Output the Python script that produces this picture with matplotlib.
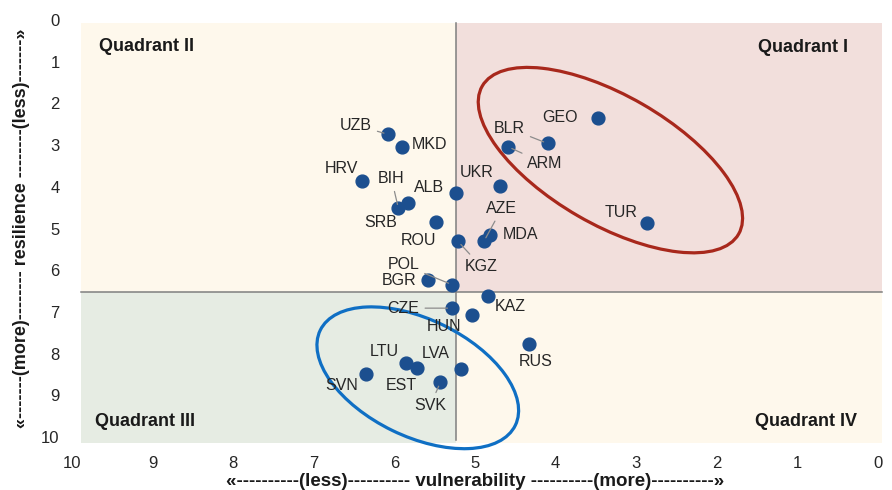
import matplotlib
matplotlib.use("Agg")
import matplotlib.pyplot as plt
import matplotlib.transforms as mtransforms
from matplotlib.patches import Ellipse, Rectangle

plt.rcParams['font.family'] = ['Liberation Sans', 'DejaVu Sans']

# data: vulnerability (x, reversed) and resilience (y, reversed)
countries = ["UZB", "MKD", "HRV", "BIH", "SRB", "ALB", "ROU", "KGZ", "UKR", "AZE",
             "MDA", "GEO", "BLR", "ARM", "TUR", "BGR", "POL", "KAZ", "CZE", "HUN",
             "RUS", "LTU", "EST", "LVA", "SVK", "SVN"]
vulnerability = [6.08, 5.91, 6.40, 5.95, 5.83, 5.23, 5.48, 5.21, 4.69, 4.89,
                 4.81, 3.47, 4.10, 4.59, 2.87, 5.58, 5.28, 4.84, 5.29, 5.04,
                 4.33, 5.85, 5.72, 5.17, 5.43, 6.35]
resilience = [2.74, 3.04, 3.85, 4.52, 4.38, 4.16, 4.84, 5.31, 3.97, 5.31,
              5.16, 2.34, 2.96, 3.04, 4.88, 6.24, 6.35, 6.61, 6.91, 7.08,
              7.76, 8.23, 8.35, 8.37, 8.69, 8.49]
x_split = 5.24
y_split = 6.52
ticks = list(range(0, 11))

# label offsets in pixels (right, down)
offsets = {"UZB": (-32, -9), "MKD": (28, -2), "HRV": (-21, -12), "BIH": (-7, -30),
           "SRB": (-27, 20), "ALB": (-27, -6), "ROU": (-18, 19), "KGZ": (23, 25),
           "UKR": (-23, -13), "AZE": (18, -33), "MDA": (30, -1), "GEO": (-38, 0),
           "BLR": (-38, -15), "ARM": (37, 17), "TUR": (-26, -11), "BGR": (-29, 0),
           "POL": (-49, -20), "KAZ": (22, 11), "CZE": (-48, 0), "HUN": (-28, 11),
           "RUS": (7, 18), "LTU": (-22, -12), "EST": (-16, 17), "LVA": (-26, -16),
           "SVK": (-10, 23), "SVN": (-25, 11)}
leaders = {"UZB", "BIH", "KGZ", "AZE", "BLR", "ARM", "POL", "CZE", "SVK"}

fig = plt.figure(figsize=(8.92, 4.90), dpi=100)
ax = fig.add_axes([72 / 892, 1 - 437 / 490, 806 / 892, 417 / 490])
ax.set_xlim(10, 0)
ax.set_ylim(10, 0)

# quadrant backgrounds
x0, x1 = 9.89, -0.05
y0, y1 = 0.07, 10.14
quads = [((x_split, y0), x0 - x_split, y_split - y0, "#fef8ec"),
         ((x1, y0), x_split - x1, y_split - y0, "#f2dfdc"),
         ((x_split, y_split), x0 - x_split, y1 - y_split, "#e6ece3"),
         ((x1, y_split), x_split - x1, y1 - y_split, "#fef8ec")]
for (xy, w, h, c) in quads:
    ax.add_patch(Rectangle(xy, w, h, facecolor=c, edgecolor="none", zorder=0, clip_on=False))

ax.plot([x_split, x_split], [y0, 10.07], color="#7f7f7f", lw=1.1, zorder=1, clip_on=False)
ax.plot([x0, x1], [y_split, y_split], color="#7f7f7f", lw=1.1, zorder=1, clip_on=False)

ax.scatter(vulnerability, resilience, s=85, color="#1c4f8f", zorder=4, clip_on=False)

for name, vx, vy in zip(countries, vulnerability, resilience):
    dx, dy = offsets[name]
    props = None
    if name in leaders:
        props = dict(arrowstyle="-", color="#8c8c8c", lw=0.9, shrinkA=2, shrinkB=3)
    ax.annotate(name, (vx, vy), xytext=(dx * 0.72, -dy * 0.72), textcoords="offset points",
                ha="center", va="center", fontsize=11.5, color="#262626",
                arrowprops=props, zorder=5)

# group ellipses (sizes in inches around a data-space centre)
def ring(cx, cy, w, h, ang, col):
    tr = fig.dpi_scale_trans + mtransforms.ScaledTranslation(cx, cy, ax.transData)
    e = Ellipse((0, 0), w, h, angle=ang, fill=False, edgecolor=col, lw=2.3,
                transform=tr, zorder=3, clip_on=False)
    ax.add_patch(e)

ring(3.32, 3.36, 2.96, 1.29, -30, "#a8281c")
ring(5.71, 8.58, 2.17, 1.17, -26, "#0f6fc4")

# quadrant captions
qkw = dict(fontsize=13, fontweight="bold", color="#1a1a1a", zorder=5)
ax.text(9.66, 0.63, "Quadrant II", ha="left", va="center", **qkw)
ax.text(0.37, 0.65, "Quadrant I", ha="right", va="center", **qkw)
ax.text(9.72, 9.63, "Quadrant III", ha="left", va="center", **qkw)
ax.text(0.26, 9.62, "Quadrant IV", ha="right", va="center", **qkw)

ax.set_xticks(ticks)
ax.set_yticks(ticks)
ax.tick_params(length=0, labelsize=12, labelcolor="#262626")
ax.tick_params(axis="x", pad=14)
ax.tick_params(axis="y", pad=9)
for s in ax.spines.values():
    s.set_visible(False)

ax.set_xlabel("«----------(less)---------- vulnerability ----------(more)----------»",
              fontsize=13.5, fontweight="bold", color="#1a1a1a", labelpad=1)
ax.set_ylabel("«-------(more)-------- resilience --------(less)-------»",
              fontsize=13, fontweight="bold", color="#1a1a1a", labelpad=8)

fig.savefig("out.png", dpi=100)
